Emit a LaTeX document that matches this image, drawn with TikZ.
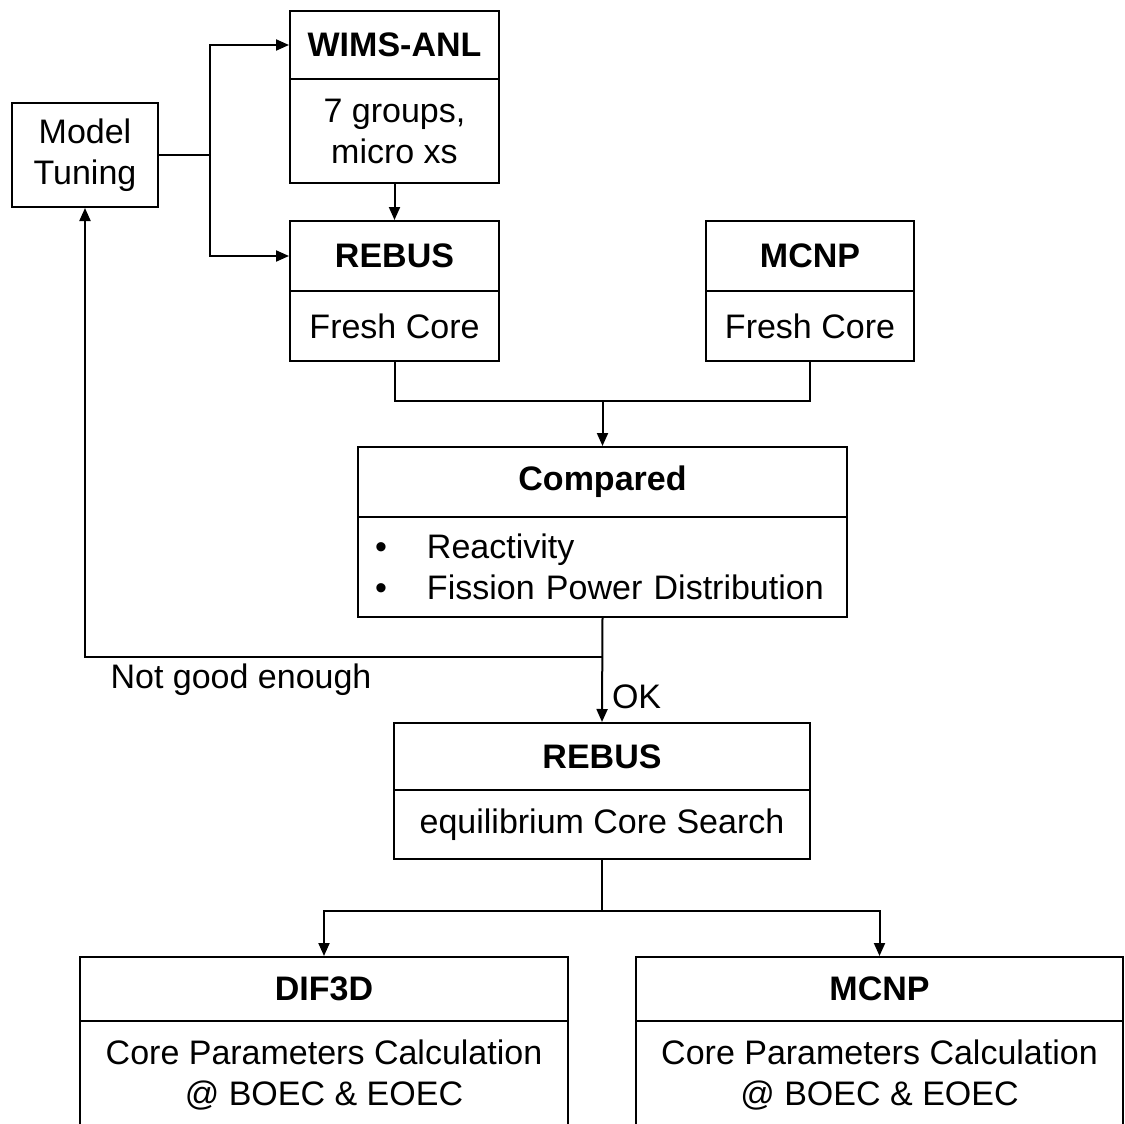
\documentclass[tikz,border=0pt]{standalone}
\usepackage{fontspec}
\setmainfont{Liberation Sans}
\usetikzlibrary{arrows.meta}

\begin{document}
\begin{tikzpicture}[x=1pt, y=-1pt, line width=2pt,
  font=\fontsize{34}{41}\selectfont,
  box/.style={draw, inner sep=0pt, align=center},
  head/.style={box, font=\fontsize{34}{41}\selectfont\bfseries},
  arr/.style={-{Triangle[length=13pt,width=11pt]}}]

\useasboundingbox (0,0) rectangle (1125,1124);
\clip (0,0) rectangle (1125,1124);

% left loop box
\node[box, minimum width=146, minimum height=104] (tune) at (85,155) {Model\\Tuning};

% cross sections and fresh core
\node[head, minimum width=209, minimum height=68] (wims) at (394.5,45) {WIMS-ANL};
\node[box, minimum width=209, minimum height=104] (wimsb) at (394.5,131) {7 groups,\\micro xs};
\node[head, minimum width=209, minimum height=70] (rebus) at (394.5,256) {REBUS};
\node[box, minimum width=209, minimum height=70] (rebusb) at (394.5,326) {Fresh Core};
\node[head, minimum width=208, minimum height=70] (mcnp) at (810,256) {MCNP};
\node[box, minimum width=208, minimum height=70] (mcnpb) at (810,326) {Fresh Core};

% comparison
\node[head, minimum width=489, minimum height=70] (cmp) at (602.5,482) {Compared};
\node[box, minimum width=489, minimum height=100, text width=455, inner xsep=17pt, align=left] (cmpb) at (602.5,567)
  {\makebox[52pt][l]{\textbullet}Reactivity\\\makebox[52pt][l]{\textbullet}Fission Power Distribution};

% equilibrium core
\node[head, minimum width=416, minimum height=67] (eqc) at (602,756.5) {REBUS};
\node[box, minimum width=416, minimum height=69] (eqcb) at (602,824.5) {equilibrium Core Search};

% final calculations
\node[head, minimum width=488, minimum height=64] (dif) at (324,989) {DIF3D};
\node[box, minimum width=488, minimum height=109] (difb) at (324,1075.5) {Core Parameters Calculation\\@ BOEC \& EOEC};
\node[head, minimum width=487, minimum height=64] (mcfin) at (879.5,989) {MCNP};
\node[box, minimum width=487, minimum height=109] (mcfinb) at (879.5,1075.5) {Core Parameters Calculation\\@ BOEC \& EOEC};

% labels
\node[inner sep=0pt] (nge) at (241,680) {Not good enough};
\node[anchor=west, inner sep=0pt] (ok) at (611,697) {OK};

% connectors
\coordinate (split) at (210,155);
\coordinate (join) at (602.5,401);
\coordinate (fork) at (602.5,657);
\coordinate (fork2) at (602,911);

\draw (tune.east) -- (split);
\draw[arr] (split) |- (wims.west);
\draw[arr] (split) |- (rebus.west);
\draw[arr] (wimsb.south) -- (rebus.north);
\draw (rebusb.south) |- (join) -| (mcnpb.south);
\draw[arr] (join) -- (cmp.north);
\draw[arr] (cmpb.south) -- (eqc.north);
\draw[arr] (fork) -| (tune.south);
\draw (eqcb.south) -- (fork2);
\draw[arr] (fork2) -| (dif.north);
\draw[arr] (fork2) -| (mcfin.north);
\end{tikzpicture}
\end{document}
